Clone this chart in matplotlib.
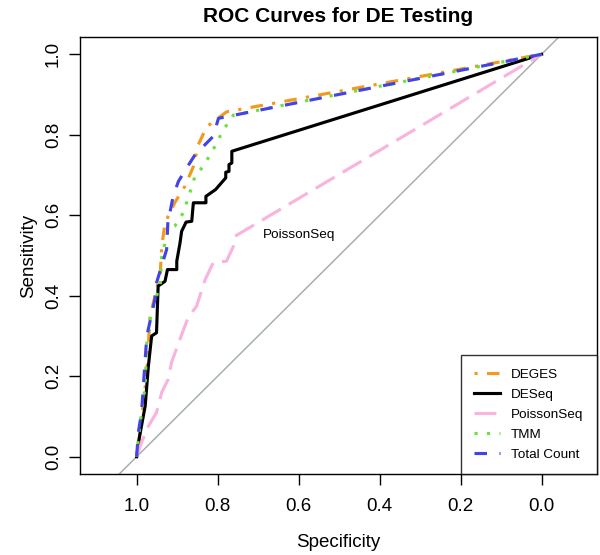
import numpy as np
import matplotlib.pyplot as plt

plt.rcParams['font.family'] = ['Liberation Sans', 'DejaVu Sans']

# Curvas ROC (especificidad, sensibilidad)
spec_deges = [1.0, 0.996, 0.988, 0.975, 0.967, 0.942, 0.938, 0.930, 0.906, 0.881, 0.860, 0.848, 0.827, 0.778, 0.0]
sens_deges = [0.0, 0.027, 0.093, 0.209, 0.349, 0.453, 0.523, 0.581, 0.631, 0.672, 0.721, 0.775, 0.820, 0.857, 1.0]

spec_deseq = [1.0, 0.994, 0.988, 0.979, 0.971, 0.963, 0.951, 0.947, 0.930, 0.924, 0.901, 0.901, 0.893,
              0.889, 0.878, 0.864, 0.860, 0.829, 0.829, 0.805, 0.780, 0.780, 0.772, 0.772, 0.765, 0.765, 0.0]
sens_deseq = [0.0, 0.044, 0.077, 0.126, 0.226, 0.300, 0.308, 0.424, 0.436, 0.465, 0.465, 0.486, 0.531,
              0.560, 0.583, 0.585, 0.631, 0.631, 0.647, 0.664, 0.693, 0.707, 0.709, 0.726, 0.730, 0.759, 1.0]

spec_poisson = [1.0, 0.991, 0.975, 0.951, 0.938, 0.922, 0.914, 0.893, 0.873, 0.852, 0.831, 0.811, 0.778, 0.761, 0.757, 0.0]
sens_poisson = [0.0, 0.027, 0.069, 0.110, 0.160, 0.193, 0.234, 0.292, 0.346, 0.374, 0.440, 0.482, 0.486, 0.523, 0.548, 1.0]

spec_tmm = [1.0, 0.996, 0.988, 0.979, 0.975, 0.963, 0.942, 0.938, 0.922, 0.906, 0.885, 0.869, 0.856, 0.836, 0.811, 0.786, 0.761, 0.0]
sens_tmm = [0.0, 0.044, 0.110, 0.176, 0.284, 0.366, 0.424, 0.498, 0.565, 0.573, 0.606, 0.655, 0.697, 0.721, 0.763, 0.812, 0.849, 1.0]

spec_total = [1.0, 0.996, 0.988, 0.975, 0.955, 0.951, 0.926, 0.922, 0.918, 0.910, 0.897, 0.877, 0.856, 0.811, 0.798, 0.0]
sens_total = [0.0, 0.060, 0.110, 0.300, 0.391, 0.432, 0.515, 0.606, 0.606, 0.647, 0.684, 0.717, 0.750, 0.796, 0.841, 1.0]

etiquetas = ['DEGES', 'DESeq', 'PoissonSeq', 'TMM', 'Total Count']
colores = ['#F39A1E', 'black', '#F8B4DE', '#6AE23C', '#4343E6']
estilos = [(0, (1, 3, 4, 3)), '-', (0, (7, 3)), (0, (1, 3)), (0, (4, 4))]
datos = [(spec_deges, sens_deges), (spec_deseq, sens_deseq), (spec_poisson, sens_poisson),
         (spec_tmm, sens_tmm), (spec_total, sens_total)]

fig = plt.figure(figsize=(6, 5.55), dpi=100)
ax = fig.add_axes([80/600, 1 - 474/555, 517/600, 437/555])

#Línea diagonal de referencia
ax.plot([1.2, -0.2], [-0.2, 1.2], color='#A8B0AC', lw=1.1, zorder=1)

for (sp, se), lab, col, ls in zip(datos, etiquetas, colores, estilos):
    ax.plot(sp, se, color=col, ls=ls, lw=2.25, label=lab, dash_capstyle='butt', zorder=2)

ax.text(0.60, 0.552, 'PoissonSeq', fontsize=9.7, ha='center', va='center')

ax.set_xlim(1.14, -0.137)
ax.set_ylim(-0.043, 1.043)
ax.set_xticks([1.0, 0.8, 0.6, 0.4, 0.2, 0.0])
ax.set_yticks([0.0, 0.2, 0.4, 0.6, 0.8, 1.0])
ax.set_xticklabels(['1.0', '0.8', '0.6', '0.4', '0.2', '0.0'])
ax.set_yticklabels(['0.0', '0.2', '0.4', '0.6', '0.8', '1.0'], rotation=90, va='center')
ax.tick_params(labelsize=13.5, length=8, width=1)
ax.tick_params(axis='x', pad=9)
ax.tick_params(axis='y', pad=5)
for s in ax.spines.values():
    s.set_linewidth(1)
ax.set_xlabel('Specificity', fontsize=13.5, labelpad=14)
ax.set_ylabel('Sensitivity', fontsize=13.5, labelpad=6)
fig.suptitle('ROC Curves for DE Testing', fontsize=15, fontweight='bold', x=338/600, y=1 - 17/555, va='center')

leg = ax.legend(loc='lower right', borderaxespad=0, fancybox=False, edgecolor='black',
                fontsize=9.7, handlelength=1.9, handletextpad=0.85, labelspacing=0.55, borderpad=1.0)
leg.get_frame().set_linewidth(1)

fig.savefig('out.png', dpi=100)
